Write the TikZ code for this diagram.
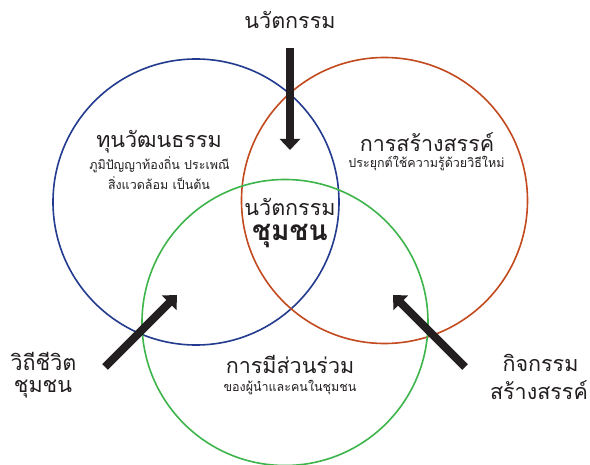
\documentclass[tikz,border=0pt]{standalone}
\usepackage{fontspec}
\newfontfamily\thai[Script=Thai]{Loma}
\usetikzlibrary{arrows.meta}
\definecolor{txt}{HTML}{231F20}
\definecolor{cblue}{HTML}{233B8E}
\definecolor{cred}{HTML}{C24A1E}
\definecolor{cgreen}{HTML}{3DB54A}
\tikzset{
  ring/.style={circle, draw, line width=1.6pt, minimum size=286pt, inner sep=0pt},
  bigarrow/.style={line width=8pt, color=txt, -{Triangle[width=20pt,length=11pt]}},
  title/.style={font=\thai\fontsize{21.5}{23}\selectfont, text=txt, inner sep=0pt, align=center},
  sub/.style={font=\thai\fontsize{12.5}{16}\selectfont, text=txt, inner sep=0pt, align=center},
}
\begin{document}
\begin{tikzpicture}[x=1pt,y=-1pt]
\useasboundingbox (0,0) rectangle (590,465);
\fill[white] (0,0) rectangle (590,465);
\node[ring, cblue] (blue) at (196,202) {};
\node[ring, cred] (red) at (384.5,200.5) {};
\node[ring, cgreen] (green) at (285,322.5) {};

\coordinate (topS) at (290,48);
\coordinate (topE) at (290,150);
\coordinate (leftS) at (105,367);
\coordinate (leftE) at (177,295);
\coordinate (rightS) at (465,367);
\coordinate (rightE) at (393,295);
\draw[bigarrow] (topS) -- (topE);
\draw[bigarrow] (leftS) -- (leftE);
\draw[bigarrow] (rightS) -- (rightE);

\node[title] (tInno) at (290,20) {นวัตกรรม};
\node[title] (tCult) at (159,142) {ทุนวัฒนธรรม};
\node[sub] (sCult1) at (159.5,165) {ภูมิปัญญาท้องถิ่น ประเพณี};
\node[sub] (sCult2) at (159,183) {สิ่งแวดล้อม เป็นต้น};
\node[title] (tCrea) at (427,142) {การสร้างสรรค์};
\node[sub] (sCrea) at (426.5,164) {ประยุกต์ใช้ความรู้ด้วยวิธีใหม่};
\node[title] (tCen1) at (290,207) {นวัตกรรม};
\node[title, font=\thai\bfseries\fontsize{28}{30}\selectfont] (tCen2) at (290,236) {ชุมชน};
\node[title] (tPart) at (290,364) {การมีส่วนร่วม};
\node[sub] (sPart) at (290,388) {ของผู้นำและคนในชุมชน};
\node[title] (tLife1) at (43.5,361) {วิถีชีวิต};
\node[title] (tLife2) at (43,389) {ชุมชน};
\node[title] (tAct1) at (540.5,363) {กิจกรรม};
\node[title] (tAct2) at (539,390) {สร้างสรรค์};
\end{tikzpicture}
\end{document}
